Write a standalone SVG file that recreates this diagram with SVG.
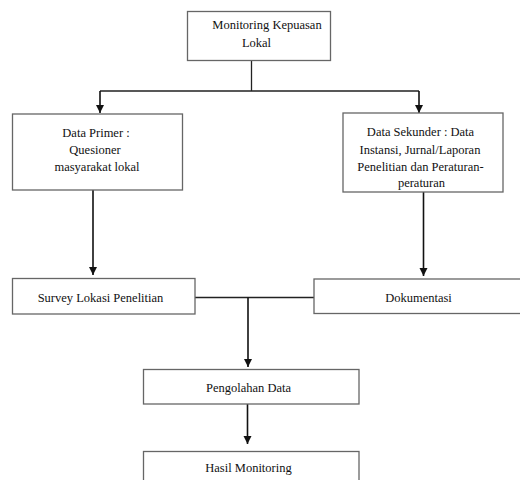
<svg xmlns="http://www.w3.org/2000/svg" width="520" height="480" viewBox="0 0 520 480">
<defs>
<marker id="arr" viewBox="0 0 8 10" refX="8" refY="5" markerWidth="8" markerHeight="10" markerUnits="userSpaceOnUse" orient="auto">
<path d="M0,1 L8,5 L0,9 Z" fill="#111"/>
</marker>
</defs>
<style>
.box{fill:#fff;stroke:#666;stroke-width:1.3}
.t{font-size:12.5px;fill:#111;text-anchor:middle}
.ln{fill:none;stroke:#222;stroke-width:1.3}
.ar{fill:none;stroke:#111;stroke-width:1.6;marker-end:url(#arr)}
</style>
<rect width="520" height="480" fill="#fff"/>
<g id="connectors">
<path class="ln" d="M251.5,60 V91 M100,91 H419"/>
<path class="ar" d="M100,91 V113"/>
<path class="ar" d="M419,91 V113"/>
<path class="ar" d="M93,190 V275"/>
<path class="ar" d="M423.5,192 V276"/>
<path class="ln" d="M195,297.5 H314"/>
<path class="ar" d="M248,297.5 V367"/>
<path class="ar" d="M247.5,400 V444"/>
</g>
<g font-family="'Liberation Serif', 'Times New Roman', serif">
<g id="monitoring">
<rect class="box" x="187.5" y="11.5" width="143" height="49"/>
<text class="t" x="267" y="28.5">Monitoring Kepuasan</text>
<text class="t" x="256.5" y="46.5">Lokal</text>
</g>
<g id="primer">
<rect class="box" x="12.5" y="114" width="170" height="76"/>
<text class="t" x="96" y="136.5">Data Primer :</text>
<text class="t" x="95" y="154">Quesioner</text>
<text class="t" x="97" y="171">masyarakat lokal</text>
</g>
<g id="sekunder">
<rect class="box" x="343" y="113" width="160" height="79"/>
<text class="t" x="420.5" y="136">Data Sekunder : Data</text>
<text class="t" x="420" y="153.5">Instansi, Jurnal/Laporan</text>
<text class="t" x="420.5" y="170.5">Penelitian dan Peraturan-</text>
<text class="t" x="421.5" y="187">peraturan</text>
</g>
<g id="survey">
<rect class="box" x="12.5" y="278.5" width="182.5" height="35.5"/>
<text class="t" x="100.5" y="301.5">Survey Lokasi Penelitian</text>
</g>
<g id="dokumentasi">
<rect class="box" x="314" y="279" width="210" height="34.5"/>
<text class="t" x="418.5" y="301.5">Dokumentasi</text>
</g>
<g id="pengolahan">
<rect class="box" x="143.5" y="369.5" width="215.5" height="34.5"/>
<text class="t" x="248.5" y="391.5">Pengolahan Data</text>
</g>
<g id="hasil">
<rect class="box" x="143.5" y="451.5" width="215.5" height="35"/>
<text class="t" x="248.5" y="471.5">Hasil Monitoring</text>
</g>
</g>
</svg>
